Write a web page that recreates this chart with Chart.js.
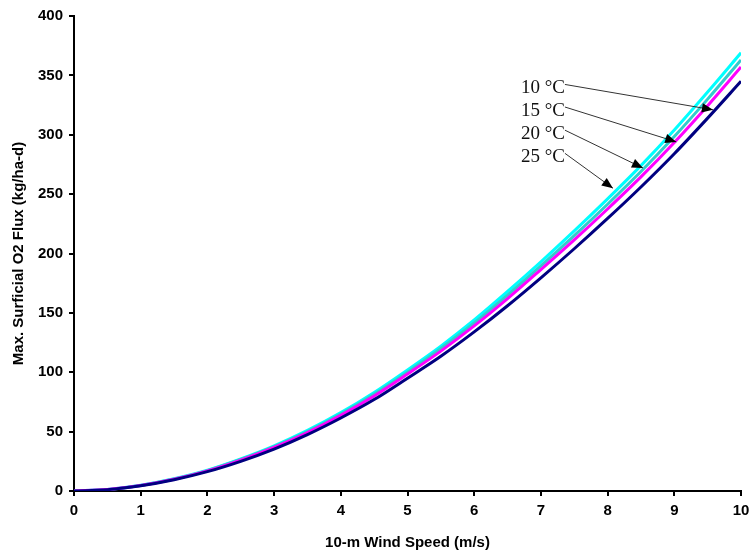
<!DOCTYPE html>
<html>
<head>
<meta charset="utf-8">
<script src="https://cdn.jsdelivr.net/npm/chart.js@4.4.0/dist/chart.umd.min.js"></script>
<style>
  html, body { margin: 0; padding: 0; background: #fff; }
  #wrap { width: 749px; height: 552px; }
</style>
</head>
<body>
<div id="wrap"><canvas id="fluxChart"></canvas></div>
<script>
// wind speed (m/s)
const windSpeed = [0, 0.5, 1, 1.5, 2, 2.5, 3, 3.5, 4, 4.5, 5, 5.5, 6, 6.5, 7, 7.5, 8, 8.5, 9, 9.5, 10];

// max surficial O2 flux (kg/ha-d), one list per temperature
const flux25 = [0, 1.3, 4.8, 10.3, 17.5, 27, 38, 51, 66, 83, 102, 122, 144, 168, 193, 219, 246, 274, 304, 336, 369];
const flux20 = [0, 1.2, 4.7, 10.1, 17.2, 26.5, 37.3, 50, 64.8, 81.5, 100, 120, 141.5, 165, 189.5, 215, 241.5, 269, 298.5, 330, 363];
const flux15 = [0, 1.2, 4.6, 9.9, 16.9, 26, 36.7, 49.2, 63.7, 80, 98.5, 117.8, 139, 162, 186.5, 211.5, 237.5, 264.5, 293.5, 324.5, 357];
const flux10 = [0, 1.1, 4.4, 9.5, 16.3, 25, 35.3, 47.5, 61.5, 77, 95, 113.5, 134, 156, 179.5, 204, 229.5, 256, 284, 314, 345];

const xTicks = [0, 1, 2, 3, 4, 5, 6, 7, 8, 9, 10];
const yTicks = [0, 50, 100, 150, 200, 250, 300, 350, 400];

// callout labels and where their arrows point (data units)
const calloutText = ["10 \u00B0C", "15 \u00B0C", "20 \u00B0C", "25 \u00B0C"];
const calloutLabelX = [6.70, 6.70, 6.70, 6.70];
const calloutLabelY = [339, 320, 300.5, 281];
const calloutTipX = [9.58, 9.03, 8.53, 8.08];
const calloutTipY = [321, 294, 272, 255];

function toPoints(ys) {
    return windSpeed.map((x, i) => ({ x: x, y: ys[i] }));
}

// Draw the temperature callouts with arrows
const calloutPlugin = {
    id: "callouts",
    afterDatasetsDraw(chart) {
        const ctx = chart.ctx;
        const xs = chart.scales.x;
        const ys = chart.scales.y;
        ctx.save();
        ctx.font = "19px 'Liberation Serif'";
        ctx.textBaseline = "middle";
        calloutText.forEach((txt, i) => {
            const lx = xs.getPixelForValue(calloutLabelX[i]);
            const ly = ys.getPixelForValue(calloutLabelY[i]);
            ctx.fillStyle = "#111";
            ctx.fillText(txt, lx, ly);
            const w = ctx.measureText(txt).width;
            const sx = lx + w;
            const sy = ly - 4;
            const tx = xs.getPixelForValue(calloutTipX[i]);
            const ty = ys.getPixelForValue(calloutTipY[i]);
            ctx.strokeStyle = "#333";
            ctx.lineWidth = 1;
            ctx.beginPath();
            ctx.moveTo(sx, sy);
            ctx.lineTo(tx, ty);
            ctx.stroke();
            // arrow head
            const ang = Math.atan2(ty - sy, tx - sx);
            const len = 12;
            ctx.fillStyle = "#000";
            ctx.beginPath();
            ctx.moveTo(tx, ty);
            ctx.lineTo(tx - len * Math.cos(ang - 0.4), ty - len * Math.sin(ang - 0.4));
            ctx.lineTo(tx - len * Math.cos(ang + 0.4), ty - len * Math.sin(ang + 0.4));
            ctx.closePath();
            ctx.fill();
        });
        ctx.restore();
    }
};

const tickFont = { family: "'Liberation Sans', Arial", size: 15, weight: "bold" };
const titleFont = { family: "'Liberation Sans', Arial", size: 15, weight: "bold" };

const ctx = document.getElementById("fluxChart").getContext("2d");
new Chart(ctx, {
    type: "line",
    data: {
        datasets: [
            { label: "10 \u00B0C", data: toPoints(flux10), borderColor: "#000080" },
            { label: "15 \u00B0C", data: toPoints(flux15), borderColor: "#ff00ff" },
            { label: "20 \u00B0C", data: toPoints(flux20), borderColor: "#33cccc" },
            { label: "25 \u00B0C", data: toPoints(flux25), borderColor: "#00ffff" }
        ].map(ds => Object.assign(ds, {
            borderWidth: 3,
            pointRadius: 0,
            fill: false,
            cubicInterpolationMode: "monotone"
        }))
    },
    options: {
        responsive: true,
        maintainAspectRatio: false,
        animation: false,
        layout: { padding: { top: 16, right: 0, left: 0, bottom: 0 } },
        plugins: {
            legend: { display: false },
            tooltip: { enabled: false }
        },
        scales: {
            x: {
                type: "linear",
                min: 0,
                max: 10,
                afterBuildTicks: (s) => { s.ticks = xTicks.map(v => ({ value: v })); },
                afterFit: (s) => { s.height = 61; s.paddingRight = 8; s.paddingLeft = 0; },
                border: { color: "#000", width: 2 },
                grid: { drawOnChartArea: false, color: "#000", tickLength: 5, lineWidth: 2 },
                ticks: { color: "#000", font: tickFont, padding: 6, maxRotation: 0 },
                title: {
                    display: true,
                    text: "10-m Wind Speed (m/s)",
                    color: "#000",
                    font: titleFont,
                    padding: { top: 4, bottom: 0 }
                }
            },
            y: {
                type: "linear",
                min: 0,
                max: 400,
                afterBuildTicks: (s) => { s.ticks = yTicks.map(v => ({ value: v })); },
                afterFit: (s) => { s.width = 74; },
                border: { color: "#000", width: 2 },
                grid: { drawOnChartArea: false, color: "#000", tickLength: 5, lineWidth: 2 },
                ticks: { color: "#000", font: tickFont, padding: 6 },
                title: {
                    display: true,
                    text: "Max. Surficial O2 Flux (kg/ha-d)",
                    color: "#000",
                    font: titleFont,
                    padding: { top: 10, bottom: 0 }
                }
            }
        }
    },
    plugins: [calloutPlugin]
});
</script>
</body>
</html>
